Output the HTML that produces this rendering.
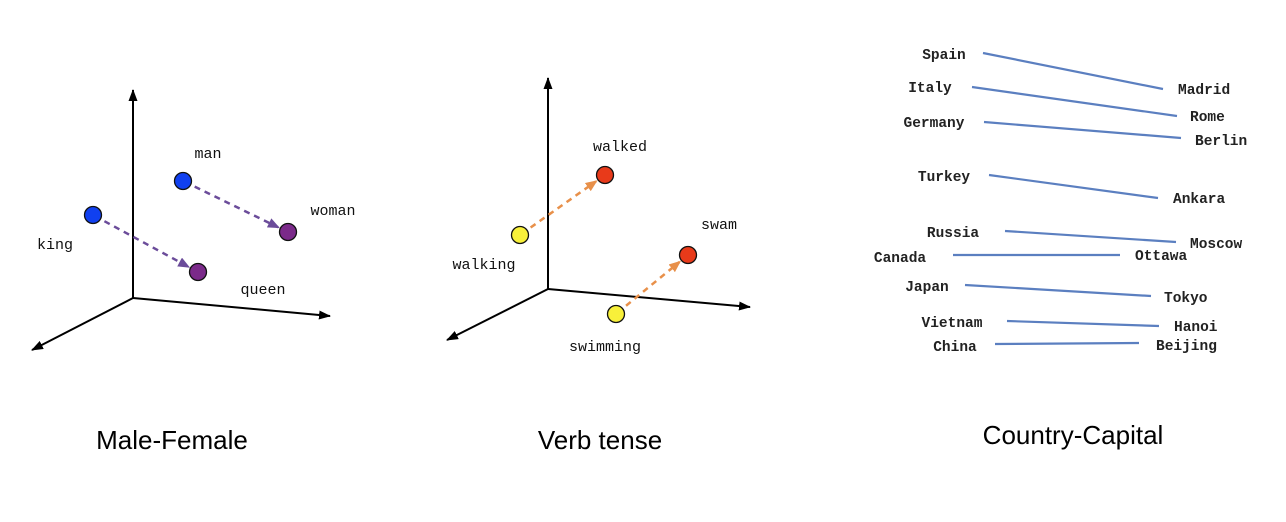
<!DOCTYPE html>
<html><head><meta charset="utf-8"><style>
html,body{margin:0;padding:0;background:#fff;width:1286px;height:522px;overflow:hidden}
svg{display:block}
.m{font-family:"Liberation Mono",monospace;font-size:15px;fill:#111}
.c{font-family:"Liberation Mono",monospace;font-size:14.5px;font-weight:bold;fill:#222}
.t{font-family:"Liberation Sans",sans-serif;font-size:26px;fill:#000}
</style></head><body>
<svg id="svg" width="1286" height="522" viewBox="0 0 1286 522">
<defs>
<marker id="ak" markerWidth="12" markerHeight="9" refX="11" refY="4.5" orient="auto" markerUnits="userSpaceOnUse"><path d="M0,0 L12,4.5 L0,9 Z" fill="#000"/></marker>
<marker id="ap" markerWidth="12" markerHeight="10" refX="10" refY="5" orient="auto" markerUnits="userSpaceOnUse"><path d="M0,0 L12,5 L0,10 Z" fill="#6b4c9a"/></marker>
<marker id="ao" markerWidth="12" markerHeight="10" refX="10" refY="5" orient="auto" markerUnits="userSpaceOnUse"><path d="M0,0 L12,5 L0,10 Z" fill="#e8904a"/></marker>
</defs>
<g id="p1"></g>
<g id="p2"></g>
<g id="p3"></g>
<text class="t" x="172" y="449" text-anchor="middle">Male-Female</text>
<text class="t" x="600" y="449" text-anchor="middle">Verb tense</text>
<text class="t" x="1073" y="444" text-anchor="middle">Country-Capital</text>
</svg>
<script>
const NS="http://www.w3.org/2000/svg";
// Panel 1 data
const mfWords=["king","man","queen","woman"];
const mfX=[93,183,198,288];
const mfY=[215,181,272,232];
const mfColors=["#1040f0","#1040f0","#7b2a8a","#7b2a8a"];
const mfLabelX=[55,208,263,333];
const mfLabelY=[249,158,294,215];
const mfPairs=[[0,2],[1,3]];
// Panel 2 data
const vtWords=["walking","walked","swimming","swam"];
const vtX=[520,605,616,688];
const vtY=[235,175,314,255];
const vtColors=["#f8f03a","#e83a1a","#f8f03a","#e83a1a"];
const vtLabelX=[484,620,605,719];
const vtLabelY=[269,151,351,229];
const vtPairs=[[0,1],[2,3]];
// Panel 3 data
const countries=["Spain","Italy","Germany","Turkey","Russia","Canada","Japan","Vietnam","China"];
const capitals=["Madrid","Rome","Berlin","Ankara","Moscow","Ottawa","Tokyo","Hanoi","Beijing"];
const countryX=[944,930,934,944,953,900,927,952,955];
const countryY=[54,87,122,176,232,257,286,322,346];
const lineStartX=[983,972,984,989,1005,953,965,1007,995];
const lineStartY=[53,87,122,175,231,255,285,321,344];
const lineEndX=[1163,1177,1181,1158,1176,1120,1151,1159,1139];
const lineEndY=[89,116,138,198,242,255,296,326,343];
const capitalX=[1178,1190,1195,1173,1190,1135,1164,1174,1156];
const capitalY=[89,116,140,198,243,255,297,326,345];

function mk(tag,attrs,parent){const e=document.createElementNS(NS,tag);for(const k in attrs)e.setAttribute(k,attrs[k]);parent.appendChild(e);return e;}

function axes(g,ox,oy,topY,rx,ry,lx,ly){
  let a=mk("line",{x1:ox,y1:oy,x2:ox,y2:topY,stroke:"#000","stroke-width":2,"marker-end":"url(#ak)"},g);
  
  
  a=mk("line",{x1:ox,y1:oy,x2:rx,y2:ry,stroke:"#000","stroke-width":2,"marker-end":"url(#ak)"},g);
  
  
  a=mk("line",{x1:ox,y1:oy,x2:lx,y2:ly,stroke:"#000","stroke-width":2,"marker-end":"url(#ak)"},g);
  
  
}
function panel(g,words,X,Y,cols,LX,LY,pairs,col,mid){
  pairs.forEach(p=>{
    const [a,b]=p;const dx=X[b]-X[a],dy=Y[b]-Y[a];const L=Math.hypot(dx,dy);
    const ux=dx/L,uy=dy/L;
    const l=mk("line",{x1:X[a]+ux*13,y1:Y[a]+uy*13,x2:X[b]-ux*11,y2:Y[b]-uy*11,stroke:col,"stroke-width":2.5,"stroke-dasharray":"6,5","marker-end":"url(#"+mid+")"},g);
    
    
  });
  words.forEach((w,i)=>{
    const c=mk("circle",{cx:X[i],cy:Y[i],r:8.5,fill:cols[i],stroke:"#111","stroke-width":1.3},g);
    
    
    const t=mk("text",{x:LX[i],y:LY[i],"text-anchor":"middle","class":"m"},g);
    t.textContent=w;
    
    
  });
}
const p1=document.getElementById("p1"),p2=document.getElementById("p2"),p3=document.getElementById("p3");
axes(p1,133,298,90,330,316,32,350);
panel(p1,mfWords,mfX,mfY,mfColors,mfLabelX,mfLabelY,mfPairs,"#6b4c9a","ap");
axes(p2,548,289,78,750,307,447,340);
panel(p2,vtWords,vtX,vtY,vtColors,vtLabelX,vtLabelY,vtPairs,"#e8904a","ao");
countries.forEach((c,i)=>{
  const t=mk("text",{x:countryX[i],y:countryY[i]+5,"text-anchor":"middle","class":"c"},p3);
  t.textContent=c;
  
  
  const l=mk("line",{x1:lineStartX[i],y1:lineStartY[i],x2:lineEndX[i],y2:lineEndY[i],stroke:"#5b7fc0","stroke-width":2.2},p3);
  
  
  const k=mk("text",{x:capitalX[i],y:capitalY[i]+5,"class":"c"},p3);
  k.textContent=capitals[i];
  
  
});
</script>
</body></html>
